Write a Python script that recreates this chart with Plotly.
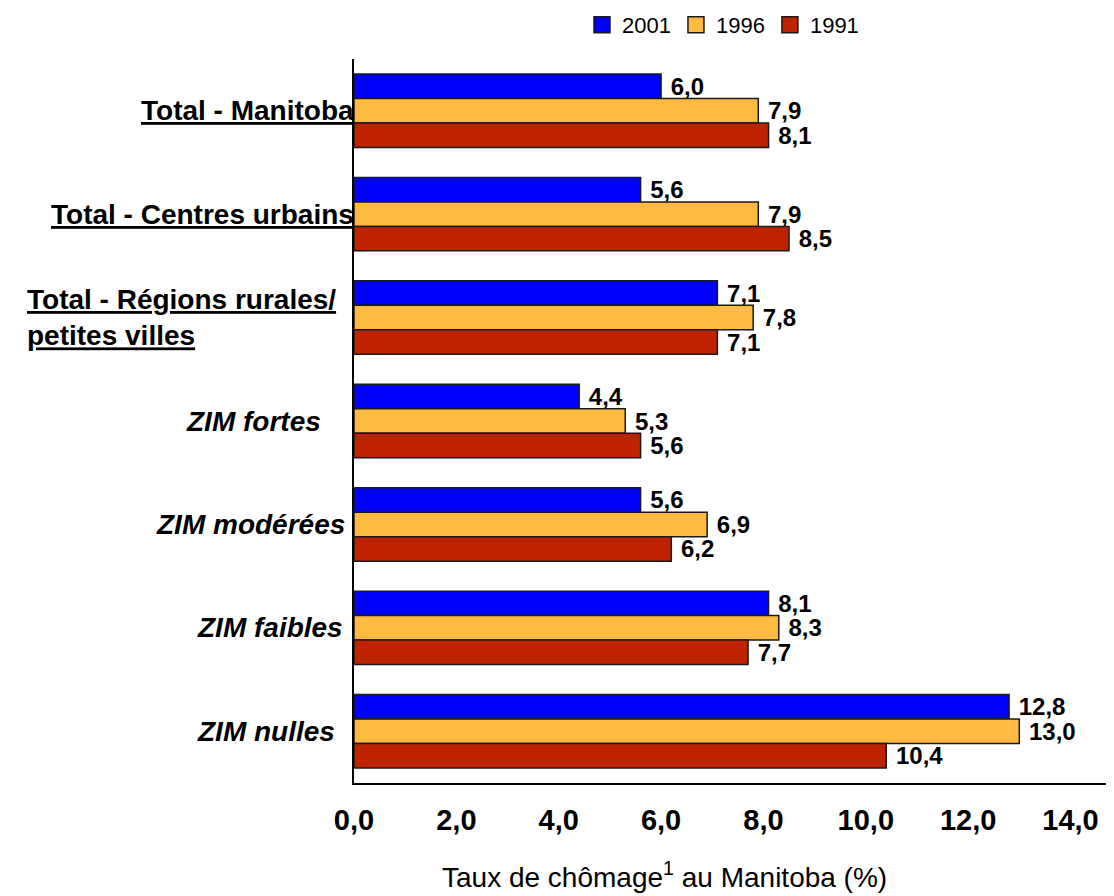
"""
Taux de chômage au Manitoba par type de région, 1991-1996-2001.
Grouped horizontal bars, three census years per category.
"""

import plotly.graph_objects as go

# ---------------------------------------------------------------------------
# DATA
# ---------------------------------------------------------------------------
CATEGORIES = [
    "Total - Manitoba",
    "Total - Centres urbains",
    "Total - Régions rurales/ petites villes",
    "ZIM fortes",
    "ZIM modérées",
    "ZIM faibles",
    "ZIM nulles",
]
YEARS = ["2001", "1996", "1991"]
RATE_2001 = [6.0, 5.6, 7.1, 4.4, 5.6, 8.1, 12.8]
RATE_1996 = [7.9, 7.9, 7.8, 5.3, 6.9, 8.3, 13.0]
RATE_1991 = [8.1, 8.5, 7.1, 5.6, 6.2, 7.7, 10.4]
X_TICKS = [0, 2, 4, 6, 8, 10, 12, 14]

# ---------------------------------------------------------------------------
# STYLE
# ---------------------------------------------------------------------------
FONT = "Liberation Sans, Arial, sans-serif"
YEAR_COLORS = {"2001": "#0000FF", "1996": "#FFBA42", "1991": "#BE2200"}
OUTLINE = "#1a1a1a"

# the page body has an 8px default margin, so the figure is 8px smaller
# and the margins are offset to land the plot where the reference has it
FIG_W, FIG_H = 1106, 888

# label markup: the three totals are bold + underlined, ZIM rows bold italic
LABEL_TEXT = [
    "<b><u>Total - Manitoba</u></b>",
    "<b><u>Total - Centres urbains</u></b>",
    "<b><u>Total - Régions rurales/</u></b><br><b><u>petites villes</u></b>",
    "<b><i>ZIM fortes</i></b>",
    "<b><i>ZIM modérées</i></b>",
    "<b><i>ZIM faibles</i></b>",
    "<b><i>ZIM nulles</i></b>",
]
LABEL_SHIFT = [2, 2, -16, -31, -7, -9, -17]


def build_figure() -> go.Figure:
    fig = go.Figure()
    series = {"2001": RATE_2001, "1996": RATE_1996, "1991": RATE_1991}

    for year in YEARS:
        fig.add_trace(
            go.Bar(
                x=series[year],
                y=CATEGORIES,
                orientation="h",
                name=year,
                showlegend=False,
                marker=dict(color=YEAR_COLORS[year], line=dict(color=OUTLINE, width=1.5)),
                texttemplate="\u00a0%{x:.1f}",
                textposition="outside",
                textfont=dict(family=FONT, size=24, color="black", weight="bold"),
                constraintext="none",
                cliponaxis=False,
            )
        )
        # legend swatch (bigger than the default bar square)
        fig.add_trace(
            go.Scatter(
                x=[None],
                y=[None],
                mode="markers",
                name=year,
                marker=dict(
                    symbol="square",
                    size=16,
                    color=YEAR_COLORS[year],
                    line=dict(color=OUTLINE, width=1.5),
                ),
            )
        )

    for cat, txt, shift in zip(CATEGORIES, LABEL_TEXT, LABEL_SHIFT):
        fig.add_annotation(
            text=txt,
            xref="paper",
            x=0,
            yref="y",
            y=cat,
            xanchor="right",
            yanchor="middle",
            xshift=shift,
            align="left",
            showarrow=False,
            font=dict(family=FONT, size=28, color="black"),
        )

    fig.add_annotation(
        text="Taux de chômage<sup>1</sup> au Manitoba (%)",
        xref="paper",
        x=0.409,
        yref="paper",
        y=-0.127,
        xanchor="center",
        yanchor="middle",
        showarrow=False,
        font=dict(family=FONT, size=28, color="black"),
    )

    fig.update_layout(
        width=FIG_W,
        height=FIG_H,
        margin=dict(l=346, r=0, t=51, b=113, autoexpand=False),
        paper_bgcolor="white",
        plot_bgcolor="white",
        font=dict(family=FONT, color="black"),
        separators=", ",
        barmode="group",
        bargap=0.29,
        bargroupgap=0,
        showlegend=True,
        legend=dict(
            orientation="h",
            x=0.30,
            xanchor="left",
            y=1.047,
            yanchor="middle",
            font=dict(family=FONT, size=22, color="black"),
            bgcolor="rgba(0,0,0,0)",
            itemclick=False,
        ),
        xaxis=dict(
            range=[0, 14.85],
            tickvals=X_TICKS,
            tickformat=".1f",
            showgrid=False,
            zeroline=False,
            showline=True,
            linecolor="black",
            linewidth=2,
            ticks="",
            ticklabelstandoff=10,
            tickfont=dict(family=FONT, size=29, color="black", weight="bold"),
        ),
        yaxis=dict(
            autorange="reversed",
            showticklabels=False,
            showgrid=False,
            zeroline=False,
            showline=True,
            linecolor="black",
            linewidth=2,
            ticks="",
        ),
    )
    return fig


def main():
    fig = build_figure()
    fig.write_html("out.html")


if __name__ == "__main__":
    main()
